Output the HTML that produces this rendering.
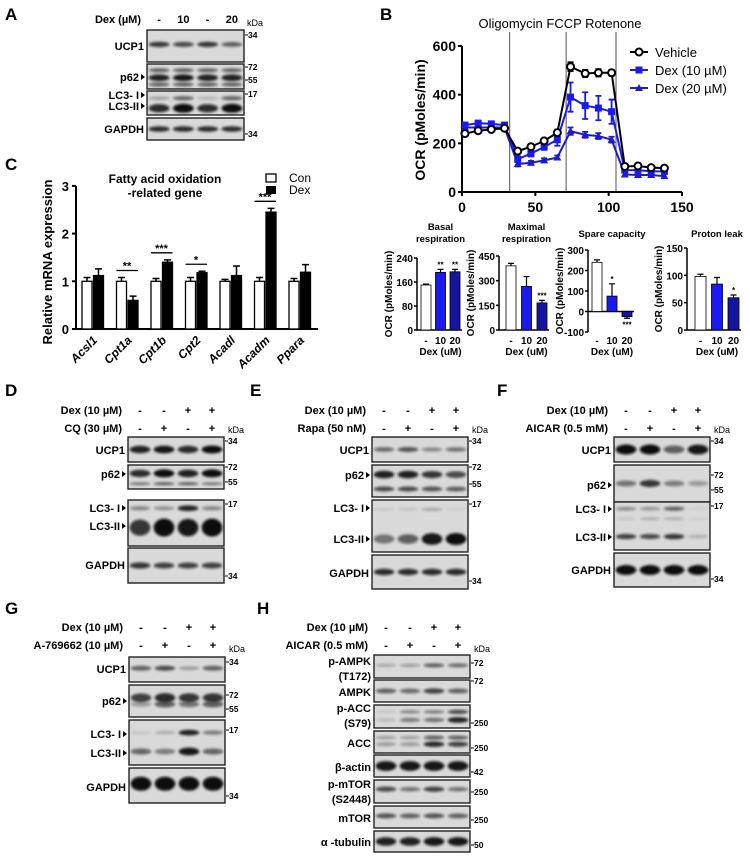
<!DOCTYPE html>
<html><head><meta charset="utf-8">
<style>
html,body{margin:0;padding:0;background:#fff;}
svg{display:block;font-family:"Liberation Sans",sans-serif;}
</style></head>
<body>
<svg id="fig" width="750" height="857" viewBox="0 0 750 857" xmlns="http://www.w3.org/2000/svg">
<defs>
<filter id="blur" x="-50%" y="-100%" width="200%" height="300%"><feGaussianBlur stdDeviation="1.4"/></filter>
</defs>
</svg>
<script>
// ===== Panel B line chart data =====
const ocrTimes = [2,11,20,29,38,47,56,65,74,84,93,102,111,120,129,138];
const ocrVehicle = [240,252,257,262,168,186,210,244,515,487,490,490,105,107,100,98];
const ocrVehicleErr = [8,8,8,8,10,10,10,12,18,15,15,12,8,8,8,8];
const ocrDex10 = [275,283,280,275,135,158,185,215,390,355,345,330,90,90,85,85];
const ocrDex10Err = [10,10,8,8,12,12,12,25,60,55,50,50,10,10,8,8];
const ocrDex20 = [265,265,265,265,115,120,130,142,250,235,230,215,72,70,70,65];
const ocrDex20Err = [8,8,8,8,10,8,8,8,15,12,12,12,8,8,8,8];
const ocrYTicks = [0,200,400,600];
const ocrXTicks = [0,50,100,150];
const injectionTimes = [32.5,71,105];
// ===== Panel C bar chart data =====
const genes = ["Acsl1","Cpt1a","Cpt1b","Cpt2","Acadl","Acadm","Ppara"];
const conValues = [1,1,1,1,1,1,1];
const conErr = [0.08,0.08,0.06,0.08,0.04,0.08,0.06];
const dexValues = [1.12,0.6,1.4,1.18,1.12,2.45,1.19];
const dexErr = [0.14,0.09,0.05,0.03,0.2,0.08,0.16];
const geneSig = ["","**","***","*","","***",""];
const mrnaTicks = [0,1,2,3];
// ===== Panel B small bar charts =====
const doseLabels = ["-","10","20"];
const basalValues = [150,192,194];
const basalErr = [3,10,8];
const basalSig = ["","**","**"];
const basalTicks = [0,80,160,240];
const maximalValues = [390,265,165];
const maximalErr = [15,60,15];
const maximalSig = ["","","***"];
const maximalTicks = [0,150,300,450];
const spareValues = [240,75,-25];
const spareErr = [12,60,8];
const spareSig = ["","*","***"];
const spareTicks = [-100,0,100,200,300];
const protonValues = [98,84,59];
const protonErr = [4,12,5];
const protonSig = ["","","*"];
const protonTicks = [0,50,100,150];

const NS = "http://www.w3.org/2000/svg";
const svg = document.getElementById("fig");
function el(tag, attrs, parent){
  const e = document.createElementNS(NS, tag);
  for (const k in attrs) e.setAttribute(k, attrs[k]);
  (parent || svg).appendChild(e);
  return e;
}
function txt(x, y, s, size, anchor, weight, parent){
  const t = el("text", {x:x, y:y, "font-size":size, "text-anchor":anchor||"start", "font-weight":weight||"bold", fill:"#000"}, parent);
  t.textContent = s;
  return t;
}
function grp(name){
  const g = el("g", {});
  
  
  return g;
}

// ===== Panel letters =====
[["A",5,20],["B",380,20],["C",5,170],["D",5,396],["E",250,396],["F",497,396],["G",5,614],["H",257,614]].forEach(p=>{
  const t = txt(p[1], p[2], p[0], 17, "start", "bold");
  
  
});

// ===== Blot helper =====
function blot(g, name, x, y, w, h, bands){
  const box = el("rect", {x:x, y:y, width:w, height:h, fill:"#d9d9d9", stroke:"#222", "stroke-width":1.4}, g);
  
  
  bands.forEach(b=>{
    b.i.forEach((v,k)=>{
      const lw = w/4;
      const e = el("ellipse", {cx:x+lw*(k+0.5), cy:y+h*b.c, rx:lw*0.43, ry:b.h*(0.5+0.5*v), fill:"#111", opacity:Math.min(1,v), filter:"url(#blur)"}, g);
      
      
    });
  });
}
function rowLabel(g, x, y, s, arrow){
  const t = txt(arrow ? x-8 : x-3, y, s, 11, "end", "bold", g);
  
  
  if (arrow){
    const a = el("path", {d:`M${x-6},${y-7} L${x-2},${y-4} L${x-6},${y-1} Z`, fill:"#000"}, g);
    
    
  }
}
function kda(g, x, y, s){
  const l = el("line", {x1:x, y1:y-3, x2:x+3, y2:y-3, stroke:"#000"}, g);
  
  
  const t = txt(x+3, y, s, 8.5, "start", "bold", g);
  
  
}
function header(g, bx, w, y, label, vals){
  const t = txt(bx-6, y, label, 11, "end", "bold", g);
  
  
  vals.forEach((v,k)=>{
    const s = txt(bx + w/4*(k+0.5), y, v, 11, "middle", "bold", g);
    
    
  });
}

// ===== Panel A =====
(function(){
  const g = grp("panel-a-western-blot");
  const x=147, w=97;
  header(g, x, w, 23, "Dex (µM)", ["-","10","-","20"]);
  const k = txt(247, 26, "kDa", 9, "start", "normal", g);
  
  
  blot(g, "ucp1", x, 30, w, 32, [{c:0.45, i:[0.8,0.7,0.8,0.6], h:3}]);
  rowLabel(g, x, 50, "UCP1");
  kda(g, 245, 38, "34");
  blot(g, "p62", x, 64, w, 25, [{c:0.25,i:[0.6,0.6,0.6,0.6],h:2.5},{c:0.55,i:[0.9,0.95,0.9,0.9],h:3.5},{c:0.82,i:[0.6,0.6,0.6,0.6],h:2.5}]);
  rowLabel(g, x, 81, "p62", true);
  kda(g, 245, 70, "72"); kda(g, 245, 83, "55");
  blot(g, "lc3", x, 91, w, 24, [{c:0.3,i:[0.3,0.6,0.2,0.6],h:2.5},{c:0.72,i:[0.85,1,0.85,1],h:4.5}]);
  rowLabel(g, x, 99, "LC3- I", true);
  rowLabel(g, x, 110, "LC3-II", true);
  kda(g, 245, 97, "17");
  blot(g, "gapdh", x, 118, w, 22, [{c:0.5,i:[0.85,0.85,0.85,0.85],h:3}]);
  rowLabel(g, x, 133, "GAPDH");
  kda(g, 245, 137, "34");
})();

// ===== Panel B line chart =====
(function(){
  const g = grp("panel-b-ocr-line-chart");
  const X = t => 462 + t*220/150;
  const Y = v => 192 - v*0.2433;
  injectionTimes.forEach(t=>{
    const l = el("line",{x1:X(t),y1:32,x2:X(t),y2:192,stroke:"#555","stroke-width":1},g);
    
    
  });
  const tt = txt(560, 28, "Oligomycin FCCP Rotenone", 13, "middle", "normal", g);
  
  
  const ax = el("path",{d:`M${X(0)},${Y(600)} L${X(0)},${Y(0)} L${X(150)},${Y(0)}`,fill:"none",stroke:"#000","stroke-width":2},g);
  
  
  ocrYTicks.forEach(v=>{
    const l = el("line",{x1:X(0)-4,y1:Y(v),x2:X(0),y2:Y(v),stroke:"#000","stroke-width":2},g);
    
    
    const t = txt(X(0)-6, Y(v)+5, String(v), 14, "end", "bold", g);
    
    
  });
  ocrXTicks.forEach(v=>{
    const l = el("line",{x1:X(v),y1:Y(0),x2:X(v),y2:Y(0)+4,stroke:"#000","stroke-width":2},g);
    
    
    const t = txt(X(v), 212, String(v), 14, "middle", "bold", g);
    
    
  });
  const yt = txt(0, 0, "OCR (pMoles/min)", 14, "middle", "bold", g);
  yt.setAttribute('transform','translate(425,120) rotate(-90)');
  
  
  const series = [
    {name:"vehicle", v:ocrVehicle, e:ocrVehicleErr, c:"#000", m:"circle"},
    {name:"dex10", v:ocrDex10, e:ocrDex10Err, c:"#1a1af0", m:"square"},
    {name:"dex20", v:ocrDex20, e:ocrDex20Err, c:"#1c1cc8", m:"tri"}
  ];
  function marker(m, x, y, c, name){
    let e;
    if (m==="circle") e = el("circle",{cx:x,cy:y,r:3.5,fill:"#fff",stroke:c,"stroke-width":2},g);
    else if (m==="square") e = el("rect",{x:x-3.5,y:y-3.5,width:7,height:7,fill:c},g);
    else e = el("path",{d:`M${x},${y-4} L${x+4},${y+3} L${x-4},${y+3} Z`,fill:c},g);
    
    
  }
  series.slice().reverse().forEach(s=>{
    s.v.forEach((v,i)=>{
      const eb = el("path",{d:`M${X(ocrTimes[i])},${Y(v-s.e[i])} V${Y(v+s.e[i])} M${X(ocrTimes[i])-3},${Y(v+s.e[i])} h6 M${X(ocrTimes[i])-3},${Y(v-s.e[i])} h6`,stroke:s.c,"stroke-width":1.8,fill:"none"},g);
      
      
    });
    const p = el("polyline",{points:s.v.map((v,i)=>X(ocrTimes[i])+","+Y(v)).join(" "),fill:"none",stroke:s.c,"stroke-width":2},g);
    
    
    s.v.forEach((v,i)=>marker(s.m, X(ocrTimes[i]), Y(v), s.c, s.name));
  });
  const labels = ["Vehicle","Dex (10 µM)","Dex (20 µM)"];
  series.forEach((s,i)=>{
    const y = 52 + i*18;
    const l = el("line",{x1:630,y1:y,x2:648,y2:y,stroke:s.c,"stroke-width":2},g);
    
    
    marker(s.m, 639, y, s.c, 'legend-' + s.name);
    const t = txt(655, y+5, labels[i], 13, "start", "normal", g);
    
    
  });
})();

// ===== Panel C bar chart =====
(function(){
  const g = grp("panel-c-mrna-bar-chart");
  const Y = v => 329 - v*47.7;
  const gx = i => 82 + i*34.5;
  const ax = el("path",{d:`M76,${Y(3)} V${Y(0)} H318`,fill:"none",stroke:"#000","stroke-width":2},g);
  
  
  mrnaTicks.forEach(v=>{
    const l = el("line",{x1:72,y1:Y(v),x2:76,y2:Y(v),stroke:"#000","stroke-width":2},g);
    
    
    const t = txt(69, Y(v)+5, String(v), 13, "end", "bold", g);
    
    
  });
  const yt = txt(0,0,"Relative mRNA expression",13,"middle","bold",g);
  yt.setAttribute('transform','translate(52,262) rotate(-90)');
  
  
  const t1 = txt(165,183,"Fatty acid oxidation",12,"middle","bold",g);
  
  
  const t2 = txt(165,197,"-related gene",12,"middle","bold",g);
  
  
  const lr1 = el("rect",{x:266,y:174,width:10,height:8,fill:"#fff",stroke:"#000","stroke-width":1.3},g);
  
  
  const lt1 = txt(289,182,"Con",12,"start","normal",g);
  
  
  const lr2 = el("rect",{x:266,y:186,width:10,height:8,fill:"#000"},g);
  
  
  const lt2 = txt(289,194,"Dex",12,"start","normal",g);
  
  
  genes.forEach((gn,i)=>{
    const x0 = gx(i), x1 = gx(i)+11.5;
    [[x0,conValues[i],conErr[i],"#fff","con"],[x1,dexValues[i],dexErr[i],"#000","dex"]].forEach(b=>{
      const eb = el("path",{d:`M${b[0]+5},${Y(b[1])} V${Y(b[1]+b[2])} M${b[0]+1.5},${Y(b[1]+b[2])} h7`,stroke:"#000","stroke-width":1.5,fill:"none"},g);
      
      
      const r = el("rect",{x:b[0],y:Y(b[1]),width:10,height:Y(0)-Y(b[1]),fill:b[3],stroke:"#000","stroke-width":1.3},g);
      
      
    });
    if (geneSig[i]){
      const top = Math.max(conValues[i]+conErr[i], dexValues[i]+dexErr[i]);
      const sl = el("line",{x1:x0,y1:Y(top)-7,x2:x1+10,y2:Y(top)-7,stroke:"#000","stroke-width":1.3},g);
      
      
      const st = txt(x0+10.5, Y(top)-8, geneSig[i], 11, "middle", "bold", g);
      
      
    }
    const gl = txt(0,0,gn,12,"end","bold",g);
    gl.setAttribute('font-style','italic');
    gl.setAttribute('transform',`translate(${x0+16},${Y(0)+12}) rotate(-45)`);
    
    
  });
})();

// ===== Panel B small bar charts =====
function smallChart(name, title1, title2, ax, top, bottom, min, max, ticks, vals, errs, sig, bx, step, bw){
  const g = grp(name);
  const Y = v => bottom - (v-min)/(max-min)*(bottom-top);
  const colors = ["#fff","#1a1af0","#1414a0"];
  const right = bx + step*2 + bw + 2;
  const ax1 = el("path",{d:`M${ax},${top} V${bottom}` + (min<0 ? ` M${ax},${Y(0)} H${right}` : ` H${right}`),fill:"none",stroke:"#000","stroke-width":1.5},g);
  
  
  ticks.forEach(v=>{
    const l = el("line",{x1:ax-3,y1:Y(v),x2:ax,y2:Y(v),stroke:"#000","stroke-width":1.5},g);
    
    
    const t = txt(ax-4, Y(v)+4, String(v), 10, "end", "bold", g);
    
    
  });
  vals.forEach((v,i)=>{
    const x = bx + i*step;
    const e = errs[i];
    const ey = v>=0 ? Y(v+e) : Y(v-e);
    const eb = el("path",{d:`M${x+bw/2},${Y(v)} V${ey} M${x+bw/2-3},${ey} h6`,stroke:"#000","stroke-width":1.2,fill:"none"},g);
    
    
    const r = el("rect",{x:x,y:Math.min(Y(v),Y(Math.max(0,min))),width:bw,height:Math.abs(Y(v)-Y(Math.max(0,min))),fill:colors[i],stroke:"#000","stroke-width":0.8},g);
    
    
    if (sig[i]){
      const sy = v>=0 ? Y(v+e)-2 : Y(v-e)+9;
      const st = txt(x+bw/2, sy, sig[i], 8, "middle", "bold", g);
      
      
    }
    const xl = txt(x+bw/2, 344, doseLabels[i], 10, "middle", "bold", g);
    
    
  });
  const cx = bx + step + bw/2;
  const xt = txt(cx, 355, "Dex (uM)", 10, "middle", "bold", g);
  
  
  const yt = txt(0,0,"OCR (pMoles/min)",10,"middle","bold",g);
  yt.setAttribute('transform',`translate(${ax-25},${(top+bottom)/2}) rotate(-90)`);
  
  
  const tt1 = txt(cx, title2 ? 230 : 237, title1, 9.5, "middle", "bold", g);
  
  
  if (title2){
    const tt2 = txt(cx, 242, title2, 9.5, "middle", "bold", g);
    
    
  }
}
smallChart("basal-respiration-chart","Basal","respiration",417,258,330,0,240,basalTicks,basalValues,basalErr,basalSig,421,14.5,10);
smallChart("maximal-respiration-chart","Maximal","respiration",499,256,330,0,450,maximalTicks,maximalValues,maximalErr,maximalSig,506,15.5,10);
smallChart("spare-capacity-chart","Spare capacity","",588,250,332,-100,300,spareTicks,spareValues,spareErr,spareSig,592,15,10);
smallChart("proton-leak-chart","Proton leak","",687,248,330,0,150,protonTicks,protonValues,protonErr,protonSig,695,16.5,11);

// ===== Western blot panels D-H =====
function panel(name, x, w, headers, kdaY, rows){
  const g = grp(name);
  headers.forEach(h=>header(g, x, w, h[0], h[1], h[2]));
  const k = txt(x+w+4, kdaY, "kDa", 9, "start", "normal", g);
  
  
  rows.forEach(r=>{
    blot(g, r.n, x, r.y, w, r.h, r.b);
    r.l.forEach(l=>rowLabel(g, x, l[0], l[1], l[2]));
    r.k.forEach(kk=>kda(g, x+w+1, kk[0], kk[1]));
  });
}
const plus4 = ["-","-","+","+"], alt4 = ["-","+","-","+"];
panel("panel-d-western-blot",128,96,[[414,"Dex (10 µM)",plus4],[432,"CQ (30 µM)",alt4]],433,[
  {n:"ucp1",y:437,h:25,b:[{c:0.5,i:[0.9,0.95,0.85,1],h:4}],l:[[454,"UCP1"]],k:[[444,"34"]]},
  {n:"p62",y:465,h:24,b:[{c:0.35,i:[0.85,1,0.9,1],h:4},{c:0.78,i:[0.5,0.6,0.6,0.5],h:2}],l:[[478,"p62",true]],k:[[470,"72"],[485,"55"]]},
  {n:"lc3",y:500,h:46,b:[{c:0.18,i:[0.4,0.35,0.9,0.4],h:3},{c:0.6,i:[0.8,1,0.95,1],h:9}],l:[[512,"LC3- I",true],[530,"LC3-II",true]],k:[[507,"17"]]},
  {n:"gapdh",y:548,h:35,b:[{c:0.5,i:[0.8,0.75,0.75,0.75],h:3.5}],l:[[569,"GAPDH"]],k:[[579,"34"]]}
]);
panel("panel-e-western-blot",372,96,[[414,"Dex (10 µM)",plus4],[432,"Rapa (50 nM)",alt4]],433,[
  {n:"ucp1",y:437,h:25,b:[{c:0.5,i:[0.55,0.65,0.4,0.5],h:3}],l:[[454,"UCP1"]],k:[[444,"34"]]},
  {n:"p62",y:465,h:32,b:[{c:0.3,i:[0.9,0.9,0.8,0.7],h:4},{c:0.75,i:[0.7,0.7,0.65,0.6],h:3}],l:[[479,"p62",true]],k:[[470,"72"],[487,"55"]]},
  {n:"lc3",y:500,h:52,b:[{c:0.18,i:[0.1,0.12,0.25,0.05],h:2.5},{c:0.75,i:[0.5,0.6,0.95,1],h:6}],l:[[512,"LC3- I",true],[543,"LC3-II",true]],k:[[507,"17"]]},
  {n:"gapdh",y:555,h:34,b:[{c:0.5,i:[0.85,0.85,0.85,0.85],h:3.5}],l:[[577,"GAPDH"]],k:[[584,"34"]]}
]);
panel("panel-f-western-blot",614,96,[[414,"Dex (10 µM)",plus4],[432,"AICAR (0.5 mM)",alt4]],433,[
  {n:"ucp1",y:437,h:25,b:[{c:0.5,i:[1,1,0.6,0.95],h:5}],l:[[454,"UCP1"]],k:[[444,"34"]]},
  {n:"p62",y:465,h:37,b:[{c:0.5,i:[0.5,0.8,0.45,0.3],h:4}],l:[[489,"p62",true]],k:[[478,"72"],[493,"55"]]},
  {n:"lc3",y:502,h:48,b:[{c:0.14,i:[0.4,0.35,0.6,0.05],h:2.5},{c:0.35,i:[0.1,0.2,0.2,0.05],h:2.5},{c:0.72,i:[0.75,0.7,0.8,0.2],h:3}],l:[[513,"LC3- I",true],[541,"LC3-II",true]],k:[[509,"17"]]},
  {n:"gapdh",y:553,h:34,b:[{c:0.5,i:[1,1,1,1],h:5}],l:[[574,"GAPDH"]],k:[[582,"34"]]}
]);
panel("panel-g-western-blot",129,96,[[631,"Dex (10 µM)",plus4],[649,"A-769662 (10 µM)",alt4]],652,[
  {n:"ucp1",y:657,h:25,b:[{c:0.45,i:[0.6,0.7,0.3,0.6],h:3}],l:[[673,"UCP1"]],k:[[665,"34"]]},
  {n:"p62",y:685,h:32,b:[{c:0.4,i:[0.75,0.85,0.8,0.8],h:5},{c:0.6,i:[0.3,0.6,0.5,0.6],h:4}],l:[[705,"p62",true]],k:[[698,"72"],[712,"55"]]},
  {n:"lc3",y:720,h:45,b:[{c:0.28,i:[0.1,0.2,0.9,0.45],h:3},{c:0.7,i:[0.55,0.45,0.95,0.55],h:4}],l:[[738,"LC3- I",true],[757,"LC3-II",true]],k:[[733,"17"]]},
  {n:"gapdh",y:768,h:35,b:[{c:0.45,i:[1,1,1,1],h:7}],l:[[791,"GAPDH"]],k:[[799,"34"]]}
]);
panel("panel-h-western-blot",374,96,[[631,"Dex (10 µM)",plus4],[649,"AICAR (0.5 mM)",alt4]],652,[
  {n:"p-ampk",y:655,h:23,b:[{c:0.45,i:[0.25,0.3,0.6,0.55],h:2.5}],l:[[665,"p-AMPK"],[680,"(T172)"]],k:[[666,"72"]]},
  {n:"ampk",y:680,h:22,b:[{c:0.5,i:[0.6,0.55,0.75,0.6],h:3}],l:[[696,"AMPK"]],k:[[684,"72"]]},
  {n:"p-acc",y:705,h:23,b:[{c:0.3,i:[0.1,0.4,0.45,0.7],h:2.5},{c:0.65,i:[0.15,0.45,0.5,0.9],h:3}],l:[[712,"p-ACC"],[727,"(S79)"]],k:[[726,"250"]]},
  {n:"acc",y:731,h:22,b:[{c:0.3,i:[0.3,0.3,0.6,0.6],h:2.5},{c:0.6,i:[0.3,0.3,0.85,0.75],h:3}],l:[[747,"ACC"]],k:[[751,"250"]]},
  {n:"beta-actin",y:755,h:22,b:[{c:0.5,i:[0.95,0.95,0.95,0.95],h:5}],l:[[771,"β-actin"]],k:[[775,"42"]]},
  {n:"p-mtor",y:780,h:23,b:[{c:0.4,i:[0.7,0.5,0.75,0.5],h:3}],l:[[788,"p-mTOR"],[803,"(S2448)"]],k:[[795,"250"]]},
  {n:"mtor",y:806,h:22,b:[{c:0.45,i:[0.65,0.6,0.65,0.6],h:3}],l:[[822,"mTOR"]],k:[[823,"250"]]},
  {n:"alpha-tubulin",y:831,h:21,b:[{c:0.5,i:[0.9,0.9,0.95,0.95],h:4.5}],l:[[846,"α -tubulin"]],k:[[848,"50"]]}
]);
</script>
</body></html>
